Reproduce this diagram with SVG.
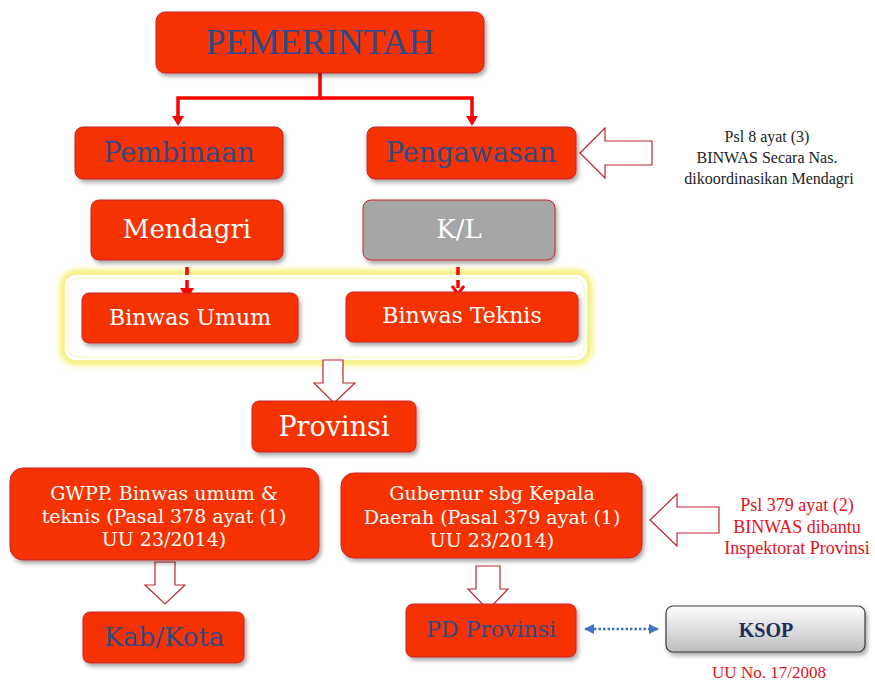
<svg xmlns="http://www.w3.org/2000/svg" width="875" height="681" viewBox="0 0 875 681">
<defs>
<filter id="sh" x="-10%" y="-10%" width="125%" height="135%">
<feGaussianBlur in="SourceAlpha" stdDeviation="2"/>
<feOffset dx="2" dy="3" result="b"/>
<feComponentTransfer><feFuncA type="linear" slope="0.35"/></feComponentTransfer>
<feMerge><feMergeNode/><feMergeNode in="SourceGraphic"/></feMerge>
</filter>
<filter id="glow" x="-5%" y="-15%" width="110%" height="130%">
<feGaussianBlur stdDeviation="3"/>
</filter>
<linearGradient id="gk" x1="0" y1="0" x2="0" y2="1">
<stop offset="0" stop-color="#FFFFFF"/>
<stop offset="1" stop-color="#BDBDBD"/>
</linearGradient>
<marker id="bh" viewBox="0 0 10 10" refX="9" refY="5" markerWidth="4" markerHeight="4" orient="auto-start-reverse" markerUnits="strokeWidth">
<path d="M0,0 L10,5 L0,10 z" fill="#4472C4"/>
</marker>
</defs>
<style>
.box{fill:#F53300;stroke:#C8252B;stroke-width:1;filter:url(#sh)}
.grey{fill:#A6A6A6;stroke:#C8252B;stroke-width:1;filter:url(#sh)}
.ksop{fill:url(#gk);stroke:#3A3A3A;stroke-width:1.2;filter:url(#sh)}
.t{font-family:"DejaVu Serif","Liberation Serif",serif;text-anchor:middle}
.w{fill:#FFFFFF}
.b{fill:#2E4A8C}
.note{font-family:"Liberation Serif","DejaVu Serif",serif;text-anchor:middle;font-size:16px}
.rnote{font-family:"Liberation Serif","DejaVu Serif",serif;text-anchor:middle;font-size:18px;fill:#E8101A}
.hollow{fill:#FFFFFF;stroke:#C0272D;stroke-width:1.2}
.red{stroke:#FF0000;fill:none}
</style>

<g id="container">
<rect x="64" y="274" width="524" height="87" rx="12" fill="none" stroke="#F5F060" stroke-width="8" filter="url(#glow)"/>
<rect x="64" y="274" width="524" height="87" rx="12" fill="#FFFFFF" stroke="#F3EE8C" stroke-width="1.5"/>
<rect x="68" y="278" width="516" height="79" rx="10" fill="none" stroke="#F8F5B8" stroke-width="1"/>
</g>

<g id="connectors">
<path class="red" stroke-width="3.5" d="M320,73 V98 H178 V118"/>
<path class="red" stroke-width="3.5" d="M320,98 H472 V118"/>
<path d="M172,116 L184,116 L178,126 z" fill="#FF0000"/>
<path d="M466,116 L478,116 L472,126 z" fill="#FF0000"/>
<path class="red" stroke-width="3.5" stroke-dasharray="8,5" d="M187,267 V294"/>
<path d="M180,288 L194,288 L187,300 z" fill="#FF0000"/>
<path class="red" stroke-width="3.5" stroke-dasharray="8,5" d="M458,267 V289"/>
<path d="M452,286 L458,294 L464,286" fill="none" stroke="#FF0000" stroke-width="3"/>
<path class="hollow" d="M580,153 L605,128 L605,141 L652,141 L652,165 L605,165 L605,178 z"/>
<path class="hollow" d="M323,360 L343,360 L343,383 L355,383 L334,403 L314,383 L323,383 z"/>
<path class="hollow" d="M155,562 L175,562 L175,585 L185,585 L165,604 L145,585 L155,585 z"/>
<path class="hollow" d="M650,520 L677,494 L677,507 L719,507 L719,533 L677,533 L677,546 z"/>
<path class="hollow" d="M476,566 L500,566 L500,589 L508,589 L488,610 L468,589 L476,589 z"/>
<path d="M585,629 H658" stroke="#4472C4" stroke-width="2.5" stroke-dasharray="2.5,2" fill="none" marker-start="url(#bh)" marker-end="url(#bh)"/>
</g>

<g id="pemerintah">
<rect class="box" x="156" y="12" width="328" height="61" rx="9"/>
<text class="b" x="320" y="54" font-family="Liberation Serif, serif" font-size="36" text-anchor="middle">PEMERINTAH</text>
</g>
<g id="pembinaan">
<rect class="box" x="75" y="127" width="208" height="52" rx="8"/>
<text class="t b" x="179" y="162" font-size="27">Pembinaan</text>
</g>
<g id="pengawasan">
<rect class="box" x="367" y="127" width="209" height="52" rx="8"/>
<text class="t b" x="471" y="162" font-size="27">Pengawasan</text>
</g>
<g id="note1">
<text class="note" x="767" y="142" fill="#222">Psl 8 ayat (3)</text>
<text class="note" x="767" y="163" fill="#222">BINWAS Secara Nas.</text>
<text class="note" x="769" y="184" fill="#222">dikoordinasikan Mendagri</text>
</g>
<g id="mendagri">
<rect class="box" x="91" y="200" width="192" height="60" rx="8"/>
<text class="t w" x="187" y="238" font-size="26">Mendagri</text>
</g>
<g id="kl">
<rect class="grey" x="363" y="200" width="192" height="60" rx="8"/>
<text class="t w" x="459" y="238" font-size="26">K/L</text>
</g>
<g id="binwas-umum">
<rect class="box" x="82" y="293" width="216" height="50" rx="7"/>
<text class="t w" x="190" y="325" font-size="22">Binwas Umum</text>
</g>
<g id="binwas-teknis">
<rect class="box" x="346" y="292" width="232" height="50" rx="7"/>
<text class="t w" x="462" y="323" font-size="22">Binwas Teknis</text>
</g>
<g id="provinsi">
<rect class="box" x="252" y="401" width="164" height="51" rx="7"/>
<text class="t w" x="334" y="436" font-size="27">Provinsi</text>
</g>
<g id="gwpp">
<rect class="box" x="10" y="468" width="309" height="92" rx="13"/>
<text class="t w" x="164" y="500" font-size="19">GWPP. Binwas umum &amp;</text>
<text class="t w" x="164" y="523" font-size="19">teknis (Pasal 378 ayat (1)</text>
<text class="t w" x="164" y="546" font-size="19">UU 23/2014)</text>
</g>
<g id="gubernur">
<rect class="box" x="341" y="473" width="301" height="85" rx="13"/>
<text class="t w" x="492" y="500" font-size="19">Gubernur sbg Kepala</text>
<text class="t w" x="492" y="524" font-size="19">Daerah (Pasal 379 ayat (1)</text>
<text class="t w" x="492" y="547" font-size="19">UU 23/2014)</text>
</g>
<g id="note2">
<text class="rnote" x="797" y="511">Psl 379 ayat (2)</text>
<text class="rnote" x="797" y="533">BINWAS dibantu</text>
<text class="rnote" x="797" y="554">Inspektorat Provinsi</text>
</g>
<g id="kabkota">
<rect class="box" x="83" y="612" width="161" height="51" rx="7"/>
<text class="t b" x="164" y="646" font-size="26">Kab/Kota</text>
</g>
<g id="pd-provinsi">
<rect class="box" x="406" y="604" width="170" height="53" rx="7"/>
<text class="t b" x="491" y="637" font-size="22">PD Provinsi</text>
</g>
<g id="ksop">
<rect class="ksop" x="666" y="606" width="199" height="46" rx="7"/>
<text x="766" y="637" font-family="Liberation Serif, serif" font-size="20" font-weight="bold" fill="#1F2D5A" text-anchor="middle">KSOP</text>
</g>
<g id="note3">
<text class="rnote" x="769" y="678" style="font-size:17px">UU No. 17/2008</text>
</g>
</svg>
